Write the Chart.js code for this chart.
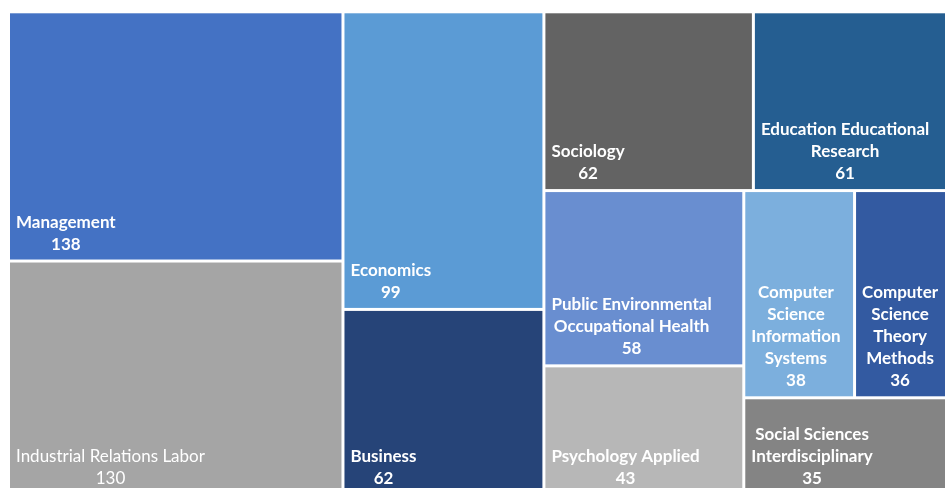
<!DOCTYPE html>
<html>
<head>
<meta charset="utf-8">
<script src="https://cdn.jsdelivr.net/npm/chart.js@4.4.1/dist/chart.umd.min.js"></script>
<style>
  html, body { margin: 0; padding: 0; background: #ffffff; overflow: hidden; }
  #wrap { position: absolute; left: 0; top: 0; width: 972px; height: 510px; }
</style>
</head>
<body>
<div id="wrap"><canvas id="c"></canvas></div>
<script>
// Publication counts by research area
const categories = [
  'Management',
  'Industrial Relations Labor',
  'Economics',
  'Business',
  'Sociology',
  'Education Educational Research',
  'Public Environmental Occupational Health',
  'Psychology Applied',
  'Computer Science Information Systems',
  'Computer Science Theory Methods',
  'Social Sciences Interdisciplinary'
];
const counts = [138, 130, 99, 62, 62, 61, 58, 43, 38, 36, 35];

// Tile colours (Office palette, cycling through shades)
const tileColors = [
  '#4472C4', '#A5A5A5', '#5B9BD5', '#264478', '#636363', '#255E91',
  '#698ED0', '#B7B7B7', '#7CAFDD', '#335AA1', '#848484'
];
const labelWeights = ['bold', 'normal', 'bold', 'bold', 'bold', 'bold', 'bold', 'bold', 'bold', 'bold', 'bold'];

// Squarified treemap layout in a rectangle with true proportions
function worstRatio(row, side) {
  const s = row.reduce((a, b) => a + b, 0);
  const mx = Math.max(...row), mn = Math.min(...row);
  return Math.max(side * side * mx / (s * s), (s * s) / (side * side * mn));
}
function squarify(values, rect) {
  const total = values.reduce((a, b) => a + b, 0);
  const k = rect.w * rect.h / total;
  const areas = values.map(v => v * k);
  const out = [];
  let r = { ...rect };
  let i = 0;
  while (i < areas.length) {
    const side = Math.min(r.w, r.h);
    let row = [areas[i]];
    let j = i + 1;
    while (j < areas.length) {
      const next = row.concat(areas[j]);
      if (worstRatio(next, side) <= worstRatio(row, side)) { row = next; j++; } else break;
    }
    const sum = row.reduce((a, b) => a + b, 0);
    if (r.w >= r.h) {
      const cw = sum / r.h;
      let yy = r.y;
      row.forEach(a => { const hh = a / cw; out.push({ x: r.x, y: yy, w: cw, h: hh }); yy += hh; });
      r = { x: r.x + cw, y: r.y, w: r.w - cw, h: r.h };
    } else {
      const rh = sum / r.w;
      let xx = r.x;
      row.forEach(a => { const ww = a / rh; out.push({ x: xx, y: r.y, w: ww, h: rh }); xx += ww; });
      r = { x: r.x, y: r.y + rh, w: r.w, h: r.h - rh };
    }
    i = j;
  }
  return out;
}

function wrapWords(ctx, text, maxW) {
  const words = text.split(' ');
  const lines = [];
  let cur = '';
  words.forEach(w => {
    const test = cur ? cur + ' ' + w : w;
    if (cur && ctx.measureText(test).width > maxW) { lines.push(cur); cur = w; }
    else cur = test;
  });
  if (cur) lines.push(cur);
  return lines;
}

const treemapPlugin = {
  id: 'treemapTiles',
  afterDatasetsDraw(chart) {
    const { ctx, chartArea, scales } = chart;
    const xs = scales.x, ys = scales.y;
    const aspect = chartArea.width / chartArea.height;
    const tiles = squarify(counts, { x: 0, y: 0, w: aspect, h: 1 });
    const gap = 1.5, pad = 6, lineH = 22, fontSize = 17;
    ctx.save();
    tiles.forEach((t, idx) => {
      const x0 = xs.getPixelForValue(t.x / aspect);
      const x1 = xs.getPixelForValue((t.x + t.w) / aspect);
      const y0 = ys.getPixelForValue(t.y);
      const y1 = ys.getPixelForValue(t.y + t.h);
      const fx = x0 + gap, fy = y0 + gap, fw = x1 - x0 - 2 * gap, fh = y1 - y0 - 2 * gap;
      ctx.fillStyle = tileColors[idx];
      ctx.fillRect(fx, fy, fw, fh);

      ctx.font = labelWeights[idx] + ' ' + fontSize + 'px Lato, "Open Sans", sans-serif';
      const lines = wrapWords(ctx, categories[idx], fw - 2 * pad);
      lines.push(String(counts[idx]));
      const blockW = Math.max(...lines.map(l => ctx.measureText(l).width));
      const cx = fx + pad + blockW / 2;
      ctx.fillStyle = '#ffffff';
      ctx.textAlign = 'center';
      ctx.textBaseline = 'alphabetic';
      const lastBase = fy + fh - 10;
      lines.forEach((l, k) => {
        ctx.fillText(l, cx, lastBase - (lines.length - 1 - k) * lineH);
      });
    });
    ctx.restore();
  }
};

new Chart(document.getElementById('c'), {
  type: 'scatter',
  data: { datasets: [{ label: 'Records', data: [] }] },
  options: {
    responsive: true,
    maintainAspectRatio: false,
    animation: false,
    layout: { padding: { left: 8.5, top: 11.8, right: 12.5, bottom: 14.2 } },
    scales: {
      x: { type: 'linear', min: 0, max: 1, display: false },
      y: { type: 'linear', min: 0, max: 1, reverse: true, display: false }
    },
    plugins: { legend: { display: false }, tooltip: { enabled: false } }
  },
  plugins: [treemapPlugin]
});
</script>
</body>
</html>
